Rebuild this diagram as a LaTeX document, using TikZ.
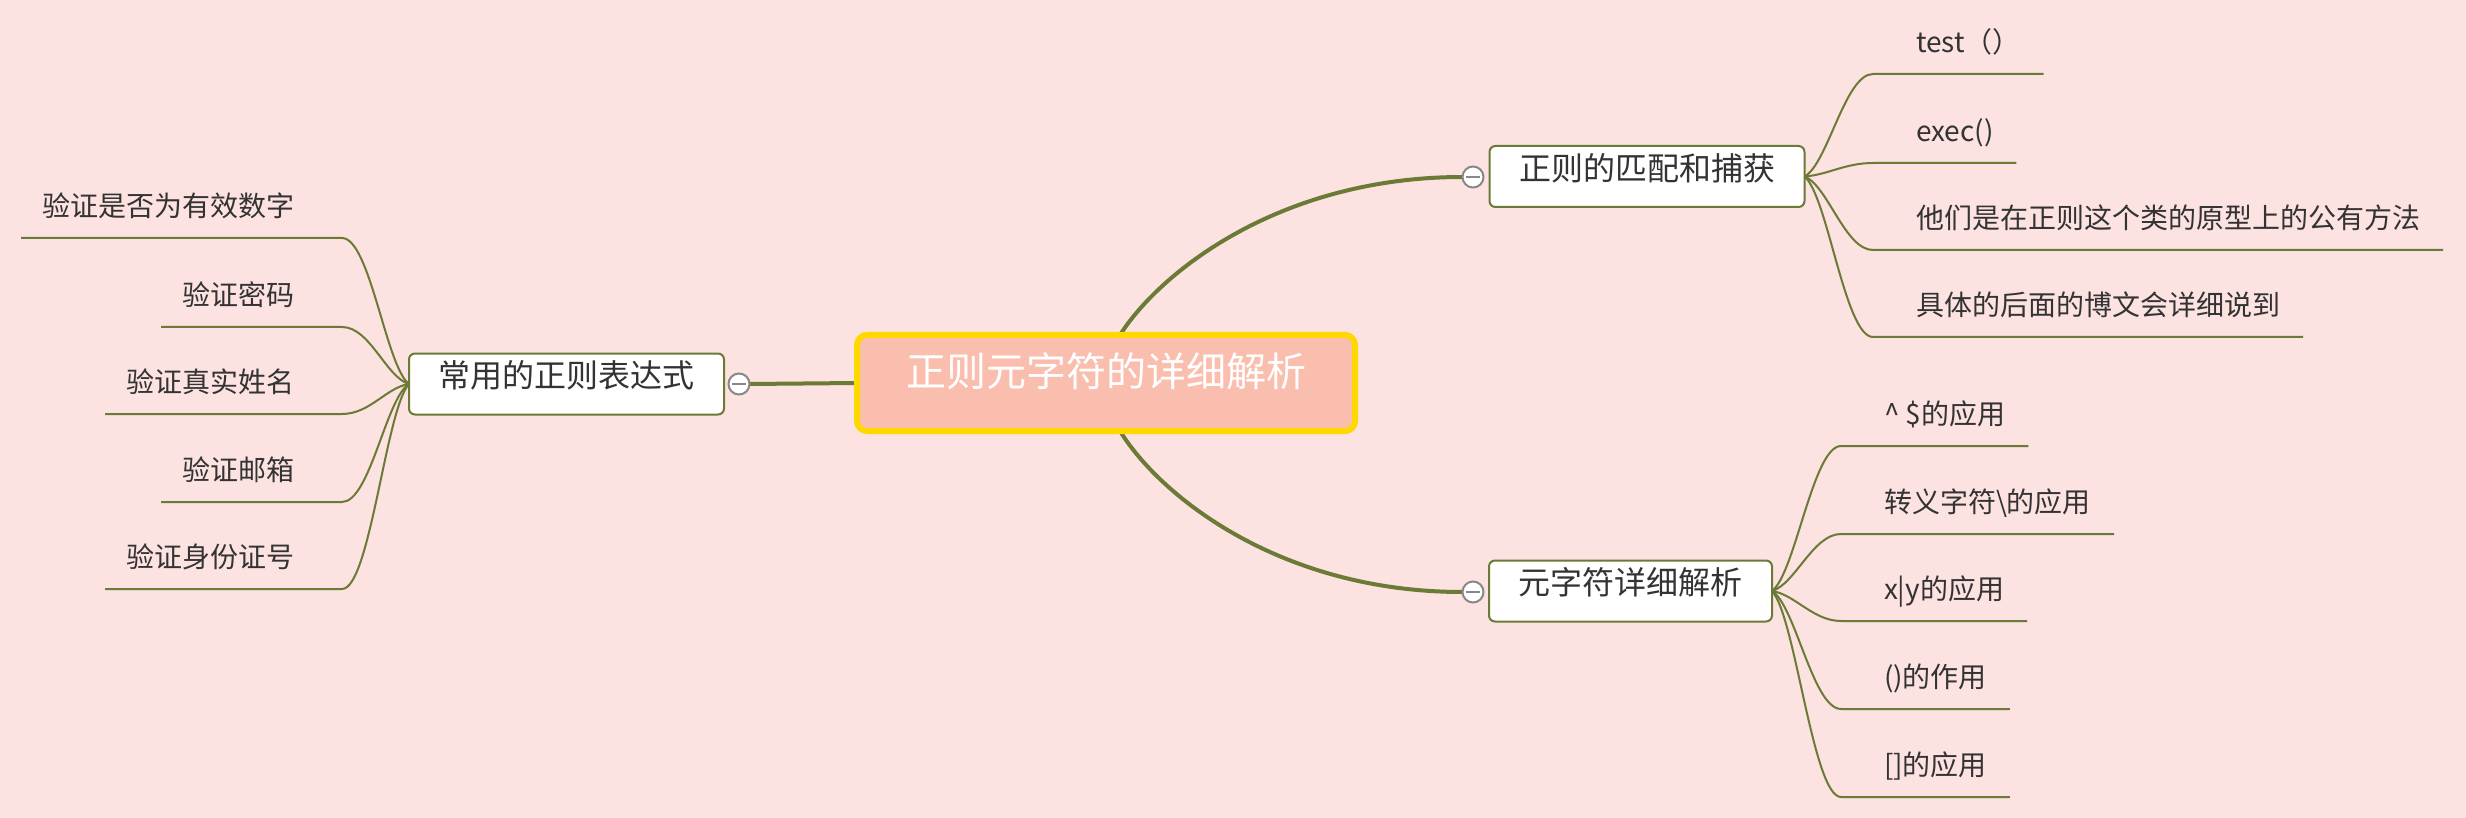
\documentclass[tikz,border=0pt]{standalone}
\usepackage{fontspec}
\setmainfont{Noto Sans CJK SC}
\usetikzlibrary{calc,backgrounds}
\definecolor{bgpink}{RGB}{252,226,225}
\definecolor{olive}{RGB}{107,122,52}
\definecolor{salmon}{RGB}{250,190,174}
\definecolor{goldborder}{RGB}{255,216,0}
\definecolor{txt}{RGB}{51,51,51}
\definecolor{ring}{RGB}{136,136,136}
\begin{document}
\begin{tikzpicture}[x=1pt,y=-1pt,
 central/.style={draw=goldborder, line width=6pt, fill=salmon, rounded corners=10pt, minimum height=96pt, inner xsep=49pt, inner ysep=0pt, text=white, font=\fontsize{40pt}{44pt}\selectfont, text height=0.83em, text depth=0.07em, outer sep=0pt},
 branch/.style={draw=olive, line width=2pt, fill=white, rounded corners=6pt, minimum height=61pt, inner xsep=29.5pt, inner ysep=0pt, text=txt, font=\fontsize{32pt}{36pt}\selectfont, text height=0.83em, text depth=0.07em, outer sep=0pt},
 leafr/.style={anchor=south west, inner xsep=0pt, inner ysep=21.6pt, text height=0.83em, text depth=0pt, outer sep=0pt, text=txt, font=\fontsize{28pt}{32pt}\selectfont},
 leafl/.style={leafr, anchor=south east},
 toggle/.style={circle, draw=ring, line width=2pt, fill=white, minimum size=21pt, inner sep=0pt, outer sep=0pt, path picture={\draw[ring, line width=1.5pt] ($(path picture bounding box.center)+(-7,0)$) -- ($(path picture bounding box.center)+(7,0)$);}},
 mainline/.style={draw=olive, line width=4pt},
 leafline/.style={draw=olive, line width=2pt},
]
\useasboundingbox (0,0) rectangle (2466,818);

% central and branch nodes
\node[central] (root) at (1106,383) {正则元字符的详细解析};
\node[branch] (lb) at (566.5,384) {常用的正则表达式};
\node[branch] (rt) at (1647,176.5) {正则的匹配和捕获};
\node[branch] (rb) at (1630.5,591) {元字符详细解析};

% collapse toggles
\node[toggle] (tl) at (739,384) {};
\node[toggle] (tt) at (1473,177) {};
\node[toggle] (tb) at (1473,592) {};

% right-top leaves
\node[leafr] (rt1) at (1873,74) {\kern43pt test（）\kern23pt};
\node[leafr] (rt2) at (1873,163) {\kern43pt exec()\kern23pt};
\node[leafr] (rt3) at (1873,250) {\kern43pt 他们是在正则这个类的原型上的公有方法\kern23pt};
\node[leafr] (rt4) at (1873,337) {\kern43pt 具体的后面的博文会详细说到\kern23pt};

% right-bottom leaves
\node[leafr] (rb1) at (1841,446) {\kern43pt\textasciicircum{} \$的应用\kern23pt};
\node[leafr] (rb2) at (1841,534) {\kern43pt 转义字符\textbackslash 的应用\kern23pt};
\node[leafr] (rb3) at (1841,621) {\kern43pt x|y的应用\kern23pt};
\node[leafr] (rb4) at (1841,709) {\kern43pt ()的作用\kern23pt};
\node[leafr] (rb5) at (1841,797) {\kern43pt []的应用\kern23pt};

% left leaves
\node[leafl] (lb1) at (342,238) {\kern21pt 验证是否为有效数字\kern48pt};
\node[leafl] (lb2) at (342,327) {\kern21pt 验证密码\kern48pt};
\node[leafl] (lb3) at (342,414) {\kern21pt 验证真实姓名\kern48pt};
\node[leafl] (lb4) at (342,502) {\kern21pt 验证邮箱\kern48pt};
\node[leafl] (lb5) at (342,589) {\kern21pt 验证身份证号\kern48pt};

\begin{scope}[on background layer]
\fill[bgpink] (0,0) rectangle (2466,818);
% main connectors
\draw[mainline] (root.west) -- (tl.east);
\draw[mainline] ($(root.north)+(14,0)$) .. controls (1160,272) and (1280,177) .. (tt.west);
\draw[mainline] ($(root.south)+(14,0)$) .. controls (1160,496) and (1280,592) .. (tb.west);
% leaf connectors
\foreach \n in {rt1,rt2,rt3,rt4}{
  \draw[leafline] (rt.east) .. controls ($(rt.east)!.12!(\n.south west)+(15,0)$) and ($(\n.south west)+(-28,0)$) .. (\n.south west) -- (\n.south east);
}
\foreach \n in {rb1,rb2,rb3,rb4,rb5}{
  \draw[leafline] (rb.east) .. controls ($(rb.east)!.12!(\n.south west)+(15,0)$) and ($(\n.south west)+(-28,0)$) .. (\n.south west) -- (\n.south east);
}
\foreach \n in {lb1,lb2,lb3,lb4,lb5}{
  \draw[leafline] (lb.west) .. controls ($(lb.west)!.12!(\n.south east)+(-15,0)$) and ($(\n.south east)+(28,0)$) .. (\n.south east) -- (\n.south west);
}
\end{scope}
\end{tikzpicture}
\end{document}
